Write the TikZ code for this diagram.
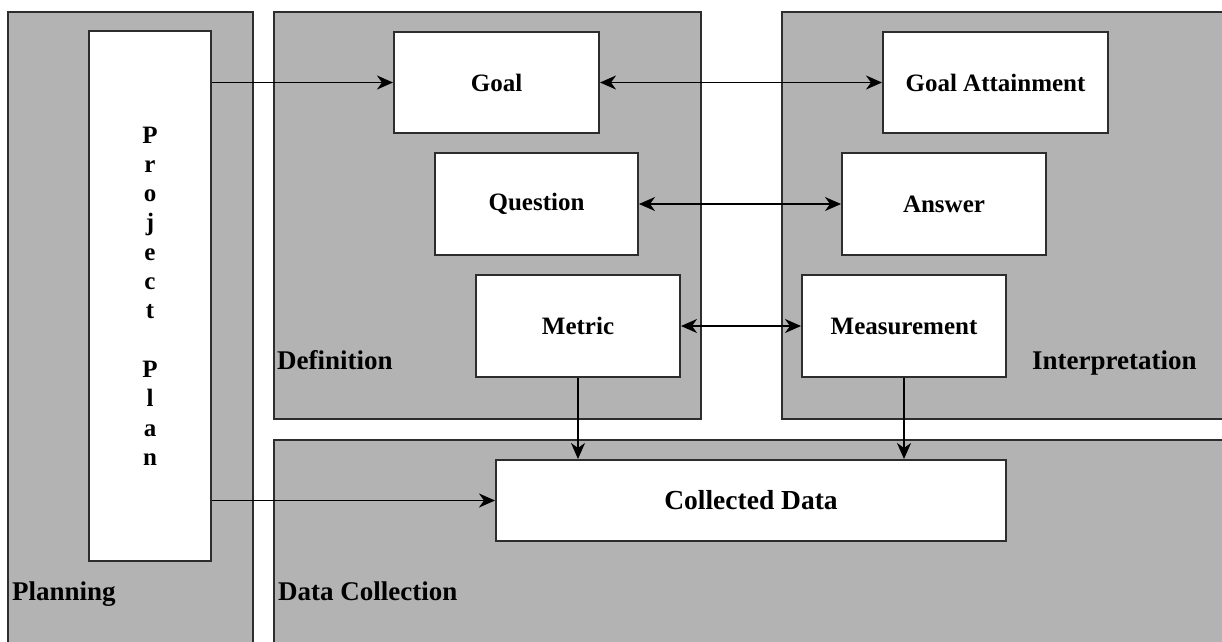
\documentclass[tikz,border=0pt]{standalone}
\usepackage{fontspec}
\setmainfont{Liberation Serif}
\usetikzlibrary{arrows.meta}
\definecolor{panelgray}{RGB}{179,179,179}
\definecolor{edgegray}{RGB}{45,45,45}

\begin{document}
\begin{tikzpicture}[x=1pt,y=-1pt,
    >={Stealth[length=16pt,width=14pt,inset=5pt]},
    panel/.style = {draw=edgegray, line width=2pt, fill=panelgray, anchor=north west, inner sep=0pt},
    block/.style = {draw=edgegray, line width=2pt, fill=white, inner sep=0pt, align=center, font=\fontsize{25}{29.3}\selectfont\bfseries},
    phase/.style = {anchor=base west, inner sep=0pt, font=\fontsize{27}{33}\selectfont\bfseries},
    link/.style = {line width=1.8pt}]
    \useasboundingbox (0,0) rectangle (1222,641);

    \node[panel, minimum width=245pt, minimum height=640pt] (planning) at (7,11) {};
    \node[panel, minimum width=427pt, minimum height=407pt] (definition) at (273,11) {};
    \node[panel, minimum width=450pt, minimum height=407pt] (interpretation) at (781,11) {};
    \node[panel, minimum width=960pt, minimum height=210pt] (collection) at (273,439) {};

    \node[phase] (planningLabel) at (12,600) {Planning};
    \node[phase] (definitionLabel) at (277,369) {Definition};
    \node[phase] (interpretationLabel) at (1032,369) {Interpretation};
    \node[phase] (collectionLabel) at (278,600) {Data Collection};

    \node[block, minimum width=122pt, minimum height=530pt] (plan) at (150,296) {P\\r\\o\\j\\e\\c\\t\\\strut\\P\\l\\a\\n};
    \node[block, minimum width=205pt, minimum height=101pt] (goal) at (496.5,82.5) {Goal};
    \node[block, minimum width=225pt, minimum height=101pt] (attainment) at (995.5,82.5) {Goal Attainment};
    \node[block, minimum width=203pt, minimum height=102pt] (question) at (536.5,204) {Question};
    \node[block, minimum width=204pt, minimum height=102pt] (answer) at (944,204) {Answer};
    \node[block, minimum width=204pt, minimum height=102pt] (metric) at (578,326) {Metric};
    \node[block, minimum width=204pt, minimum height=102pt] (measurement) at (904,326) {Measurement};
    \node[block, minimum width=510pt, minimum height=81pt, font=\fontsize{27.5}{33}\selectfont\bfseries] (data) at (751,500.5) {Collected Data};

    \draw [->,link] (plan.east |- goal.west) -- (goal.west);
    \draw [->,link] (plan.east |- data.west) -- (data.west);
    \draw [<->,link] (goal.east) -- (attainment.west);
    \draw [<->,link] (question.east) -- (answer.west);
    \draw [<->,link] (metric.east) -- (measurement.west);
    \draw [->,link] (metric.south) -- (metric.south |- data.north);
    \draw [->,link] (measurement.south) -- (measurement.south |- data.north);
\end{tikzpicture}
\end{document}
